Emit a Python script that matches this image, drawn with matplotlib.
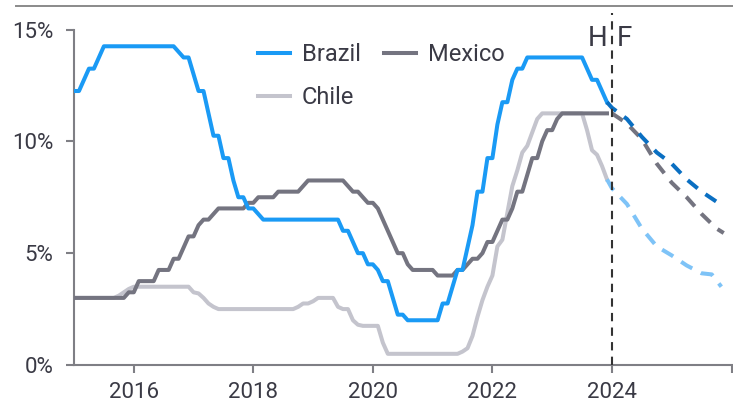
import numpy as np
import matplotlib
matplotlib.use("Agg")
import matplotlib.pyplot as plt
from matplotlib.lines import Line2D

plt.rcParams['font.family'] = ['Roboto', 'DejaVu Sans']

# ---- data: monthly policy rates, Jan 2015 .. Dec 2023 ----
start_year = 2015
brazil = [12.25, 12.25, 12.75, 13.25, 13.25, 13.75, 14.25, 14.25, 14.25, 14.25, 14.25, 14.25,
          14.25, 14.25, 14.25, 14.25, 14.25, 14.25, 14.25, 14.25, 14.25, 14.00, 13.75, 13.75,
          13.00, 12.25, 12.25, 11.25, 10.25, 10.25, 9.25, 9.25, 8.25, 7.50, 7.50, 7.00,
          7.00, 6.75, 6.50, 6.50, 6.50, 6.50, 6.50, 6.50, 6.50, 6.50, 6.50, 6.50,
          6.50, 6.50, 6.50, 6.50, 6.50, 6.50, 6.00, 6.00, 5.50, 5.00, 5.00, 4.50,
          4.50, 4.25, 3.75, 3.75, 3.00, 2.25, 2.25, 2.00, 2.00, 2.00, 2.00, 2.00,
          2.00, 2.00, 2.75, 2.75, 3.50, 4.25, 4.25, 5.25, 6.25, 7.75, 7.75, 9.25,
          9.25, 10.75, 11.75, 11.75, 12.75, 13.25, 13.25, 13.75, 13.75, 13.75, 13.75, 13.75,
          13.75, 13.75, 13.75, 13.75, 13.75, 13.75, 13.75, 13.25, 12.75, 12.75, 12.25, 11.75]
mexico = [3.00, 3.00, 3.00, 3.00, 3.00, 3.00, 3.00, 3.00, 3.00, 3.00, 3.00, 3.25,
          3.25, 3.75, 3.75, 3.75, 3.75, 4.25, 4.25, 4.25, 4.75, 4.75, 5.25, 5.75,
          5.75, 6.25, 6.50, 6.50, 6.75, 7.00, 7.00, 7.00, 7.00, 7.00, 7.00, 7.25,
          7.25, 7.50, 7.50, 7.50, 7.50, 7.75, 7.75, 7.75, 7.75, 7.75, 8.00, 8.25,
          8.25, 8.25, 8.25, 8.25, 8.25, 8.25, 8.25, 8.00, 7.75, 7.75, 7.50, 7.25,
          7.25, 7.00, 6.50, 6.00, 5.50, 5.00, 5.00, 4.50, 4.25, 4.25, 4.25, 4.25,
          4.25, 4.00, 4.00, 4.00, 4.00, 4.25, 4.25, 4.50, 4.75, 4.75, 5.00, 5.50,
          5.50, 6.00, 6.50, 6.50, 7.00, 7.75, 7.75, 8.50, 9.25, 9.25, 10.00, 10.50,
          10.50, 11.00, 11.25, 11.25, 11.25, 11.25, 11.25, 11.25, 11.25, 11.25, 11.25, 11.25]
chile = [3.00, 3.00, 3.00, 3.00, 3.00, 3.00, 3.00, 3.00, 3.00, 3.10, 3.25, 3.40,
         3.50, 3.50, 3.50, 3.50, 3.50, 3.50, 3.50, 3.50, 3.50, 3.50, 3.50, 3.50,
         3.25, 3.20, 3.00, 2.75, 2.60, 2.50, 2.50, 2.50, 2.50, 2.50, 2.50, 2.50,
         2.50, 2.50, 2.50, 2.50, 2.50, 2.50, 2.50, 2.50, 2.50, 2.60, 2.75, 2.75,
         2.85, 3.00, 3.00, 3.00, 3.00, 2.60, 2.50, 2.50, 2.00, 1.80, 1.75, 1.75,
         1.75, 1.75, 1.00, 0.50, 0.50, 0.50, 0.50, 0.50, 0.50, 0.50, 0.50, 0.50,
         0.50, 0.50, 0.50, 0.50, 0.50, 0.50, 0.60, 0.75, 1.30, 2.15, 2.90, 3.50,
         4.00, 5.30, 5.60, 6.80, 8.00, 8.70, 9.50, 9.80, 10.40, 11.00, 11.25, 11.25,
         11.25, 11.25, 11.25, 11.25, 11.25, 11.25, 11.25, 10.50, 9.60, 9.40, 8.90, 8.30]

# ---- forecasts ----
brazil_fc_x = [2023.917, 2024.0, 2024.25, 2024.5, 2024.75, 2025.0, 2025.25, 2025.5, 2025.75, 2025.83]
brazil_fc = [11.75, 11.5, 11.0, 10.2, 9.5, 9.0, 8.3, 7.75, 7.3, 7.15]
mexico_fc_x = [2024.0, 2024.083, 2024.25, 2024.5, 2024.75, 2025.0, 2025.25, 2025.5, 2025.75, 2025.87]
mexico_fc = [11.25, 11.1, 10.8, 10.1, 9.0, 8.15, 7.5, 6.75, 6.1, 5.9]
chile_fc_x = [2023.917, 2024.0, 2024.25, 2024.5, 2024.75, 2025.0, 2025.25, 2025.5, 2025.67, 2025.83]
chile_fc = [8.3, 7.9, 7.2, 6.1, 5.3, 4.9, 4.45, 4.1, 4.05, 3.5]

year_ticks = [2016, 2018, 2020, 2022, 2024, 2026]
year_labels = ['2016', '2018', '2020', '2022', '2024', '']
y_ticks = [0, 5, 10, 15]
y_labels = ['0%', '5%', '10%', '15%']

# ---- styling ----
C_BRAZIL = '#1a9af5'
C_BRAZIL_FC = '#0a6fc2'
C_MEXICO = '#747480'
C_CHILE = '#c4c4cd'
C_CHILE_FC = '#7ec3f7'
TXT = '#3a3a45'
AXC = '#7f7f85'

W, H = 733, 403
fig = plt.figure(figsize=(W / 100, H / 100), dpi=100)
ax = fig.add_axes([74 / W, 38 / H, 657.5 / W, 335.5 / H])

x_hist = start_year + np.arange(len(brazil)) / 12.0
lw = 2.9
ax.plot(x_hist, chile, color=C_CHILE, lw=lw, solid_joinstyle='round', zorder=2)
ax.plot(x_hist, mexico, color=C_MEXICO, lw=lw, solid_joinstyle='round', zorder=3)
ax.plot(x_hist, brazil, color=C_BRAZIL, lw=lw, solid_joinstyle='round', zorder=4)

dash = (3.2, 2.4)
ax.plot(chile_fc_x, chile_fc, color=C_CHILE_FC, lw=lw, dashes=dash, zorder=2)
ax.plot(mexico_fc_x, mexico_fc, color=C_MEXICO, lw=lw, dashes=dash, zorder=3)
ax.plot(brazil_fc_x, brazil_fc, color=C_BRAZIL_FC, lw=lw, dashes=dash, zorder=4)

ax.plot([2024, 2024], [0, 15.75], color='#333333', lw=1.5, dashes=(4, 3), clip_on=False, zorder=5)
ax.text(2023.93, 14.6, 'H', ha='right', va='center', fontsize=20, color=TXT)
ax.text(2024.08, 14.6, 'F', ha='left', va='center', fontsize=20, color=TXT)

ax.set_xlim(2015, 2026)
ax.set_ylim(0, 15)
ax.set_xticks(year_ticks)
ax.set_xticklabels(year_labels)
ax.set_yticks(y_ticks)
ax.set_yticklabels(y_labels)

for s in ['top', 'right']:
    ax.spines[s].set_visible(False)
for s in ['left', 'bottom']:
    ax.spines[s].set_color(AXC)
    ax.spines[s].set_linewidth(1.5)
ax.tick_params(axis='both', colors=AXC, labelcolor=TXT, labelsize=16, width=1.5, length=6)
ax.tick_params(axis='y', pad=9)
ax.tick_params(axis='x', pad=6)

handles = [Line2D([], [], color=C_BRAZIL, lw=lw),
           Line2D([], [], color=C_CHILE, lw=lw),
           Line2D([], [], color=C_MEXICO, lw=lw)]
labels = ['Brazil', 'Chile', 'Mexico']
leg = fig.legend(handles, labels, ncol=2, loc='upper left',
                 bbox_to_anchor=(258 / W, 1 - 43 / H), frameon=False,
                 fontsize=17, handlelength=1.35, handletextpad=0.5,
                 columnspacing=1.0, labelspacing=0.85, borderpad=0, borderaxespad=0)
for t in leg.get_texts():
    t.set_color(TXT)

fig.add_artist(Line2D([16 / W, 1.0], [1 - 6 / H, 1 - 6 / H], color='#8a8a8a', lw=1.4))

fig.savefig('out.png', dpi=100)
